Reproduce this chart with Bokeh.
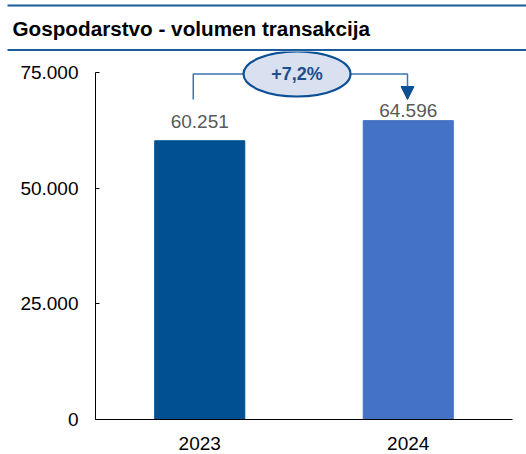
from bokeh.plotting import figure
from bokeh.layouts import column
from bokeh.models import (ColumnDataSource, FactorRange, Range1d, FixedTicker,
                          Arrow, NormalHead)
from bokeh.core.properties import value
from bokeh.embed import file_html
from bokeh.resources import INLINE

# ---- data ----
years = ["2023", "2024"]
volumes = [60251, 64596]
value_labels = ["60.251", "64.596"]
bar_colors = ["#005092", "#4472C4"]
y_ticks = [0, 25000, 50000, 75000]
y_tick_labels = ["0", "25.000", "50.000", "75.000"]
change_label = "+7,2%"
title_text = "Gospodarstvo - volumen transakcija"

FONT = "Liberation Sans"
RULE = "#1B5B9B"

# ---- header (title between two rules) ----
W = 526
HEAD_H = 51
head = figure(width=W, height=HEAD_H, x_range=Range1d(0, W), y_range=Range1d(HEAD_H, 0),
              x_axis_type=None, y_axis_type=None, output_backend="svg", toolbar_location=None,
              min_border_left=0, min_border_right=0, min_border_top=0, min_border_bottom=0)
head.frame_align = False
head.outline_line_color = None
head.xgrid.grid_line_color = None
head.ygrid.grid_line_color = None
head.quad(left=[7, 7], right=[W, W], top=[4, 48.5], bottom=[6, 50.5], fill_color=RULE, line_color=None)
head.text(x=[12], y=[28], text=[title_text], text_align="left", text_baseline="middle",
          text_font=value(FONT), text_font_style="bold", text_font_size="20.7px", text_color="#000000")

# ---- chart ----
H = 403
frame_h = 368
axis_px = 347            # pixel height of 0..75000
frame_w = 417
y_end = 75000 * frame_h / axis_px
px_y = 75000 / axis_px   # data units per pixel

p = figure(width=W, height=H, x_range=FactorRange(*years, range_padding=0),
           y_range=Range1d(0, y_end), output_backend="svg", toolbar_location=None,
           min_border_left=95, min_border_right=W - 95 - frame_w, min_border_top=0,
           min_border_bottom=H - frame_h)
p.frame_align = False
p.outline_line_color = None
p.xgrid.grid_line_color = None
p.ygrid.grid_line_color = None
p.background_fill_color = "white"
p.border_fill_color = "white"

src = ColumnDataSource(dict(year=years, vol=volumes, lab=value_labels, color=bar_colors,
                            yoff=[-19.5, -10]))
p.vbar(x="year", top="vol", width=0.432, color="color", source=src)
p.text(x="year", y="vol", text="lab", source=src, text_align="center", text_baseline="alphabetic",
       y_offset="yoff", text_font=value(FONT), text_font_size="19px", text_color="#595959")

# axes
ya = p.yaxis[0]
ya.bounds = (0, 75000)
ya.ticker = FixedTicker(ticks=y_ticks)
ya.major_label_overrides = {t: l for t, l in zip(y_ticks, y_tick_labels)}
ya.major_tick_in = 4
ya.major_tick_out = 0
ya.minor_tick_in = 0
ya.minor_tick_out = 0
ya.major_label_standoff = 17
ya.major_label_text_font = FONT
ya.major_label_text_font_size = "19px"
ya.major_label_text_color = "#000000"
ya.axis_line_color = "black"
ya.major_tick_line_color = "black"

xa = p.xaxis[0]
xa.major_tick_in = 0
xa.major_tick_out = 0
xa.major_label_standoff = 17
xa.major_label_text_font = FONT
xa.major_label_text_font_size = "19px"
xa.major_label_text_color = "#000000"
xa.axis_line_color = "black"

# ---- growth annotation (synthetic categorical coordinates: factor i centre = i + 0.5) ----
px_x = len(years) / frame_w
c0 = years.index("2023") + 0.5
c1 = years.index("2024") + 0.5
line_y = 75000 - 1.5 * px_y
low_y = 75000 - 27 * px_y
left_x = c0 - 6.5 * px_x
right_x = c1 - 0.75 * px_x
ell_x = (c0 + c1) / 2 - 7 * px_x
ell_w = 107 * px_x
ell_h = 45 * px_y

line_color = "#3C74B0"
head_color = "#0B4F94"
p.line(x=[left_x, left_x, ell_x], y=[low_y, line_y, line_y], line_color=line_color, line_width=1.5)
p.line(x=[ell_x, right_x, right_x], y=[line_y, line_y, low_y + 12 * px_y], line_color=line_color,
       line_width=1.5)
p.add_layout(Arrow(x_start=right_x, y_start=low_y + 14 * px_y, x_end=right_x, y_end=low_y,
                   line_color=line_color, line_width=1.5,
                   end=NormalHead(size=13, fill_color=head_color, line_color=head_color)))
p.ellipse(x=[ell_x], y=[line_y], width=[ell_w], height=[ell_h], fill_color="#D9E0EF",
          line_color=head_color, line_width=2.2)
p.text(x=[ell_x], y=[line_y], text=[change_label], text_align="center", text_baseline="middle",
       text_font=value(FONT), text_font_style="bold", text_font_size="18px",
       text_color="#1F4E8C")

layout = column(head, p, spacing=0)
open("out.html", "w").write(file_html(layout, INLINE))
